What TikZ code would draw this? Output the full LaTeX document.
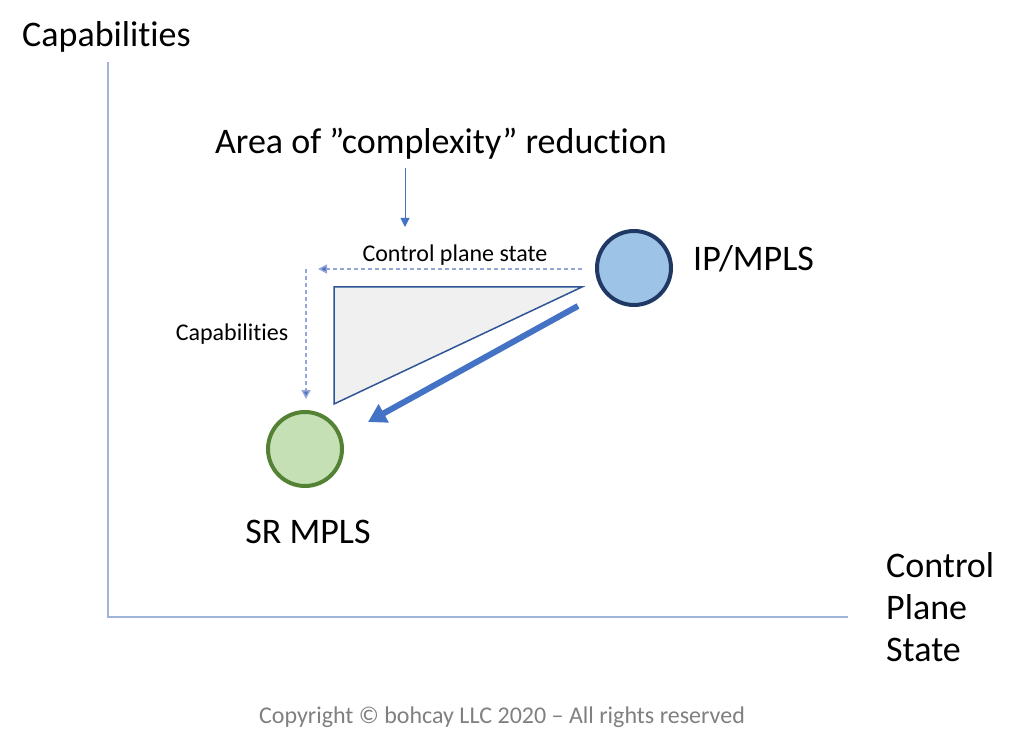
\documentclass[tikz,border=0pt]{standalone}
\usepackage{fontspec}
\setmainfont[Ligatures=NoCommon]{Carlito}
\usetikzlibrary{arrows.meta}
\definecolor{axisblue}{RGB}{160,180,218}
\definecolor{ipfill}{RGB}{157,195,230}
\definecolor{ipdraw}{RGB}{31,56,100}
\definecolor{srfill}{RGB}{197,224,180}
\definecolor{srdraw}{RGB}{84,130,53}
\definecolor{tridraw}{RGB}{47,85,151}
\definecolor{arrowblue}{RGB}{68,114,196}
\definecolor{dashblue}{RGB}{150,165,215}
\definecolor{copygray}{RGB}{128,128,128}
\tikzset{
  bigtext/.style={font=\fontsize{36}{42}\selectfont, inner sep=0pt},
  smalltext/.style={font=\fontsize{24}{28}\selectfont, inner sep=0pt},
  axisline/.style={draw=axisblue, line width=2pt},
  dashedarrow/.style={draw=dashblue, dashed, dash pattern=on 4pt off 3pt, line width=1.5pt, -{Triangle[length=9pt,width=9pt,fill=arrowblue]}},
  circ/.style={circle, minimum size=74pt, inner sep=0pt, line width=4pt}
}
\begin{document}
\begin{tikzpicture}[x=1pt,y=-1pt]
\useasboundingbox (0,0) rectangle (1018,746);
% axes
\coordinate (top) at (108,62);
\coordinate (origin) at (108,617);
\coordinate (right) at (848,617);
\draw[axisline] (top) -- (origin) -- (right);
\node[bigtext, anchor=west] (ylabel) at (22,37) {Capabilities};
\node[bigtext, anchor=north west, align=left] (xlabel) at (886,552) {Control\\Plane\\State};
% circles
\node[circ, fill=ipfill, draw=ipdraw] (ip) at (634,268) {};
\node[circ, fill=srfill, draw=srdraw] (sr) at (305,449) {};
\node[bigtext, anchor=west] (iplabel) at (693,259) {IP/MPLS};
\node[bigtext] (srlabel) at (308,532) {SR MPLS};
% triangle
\coordinate (t1) at (334,287);
\coordinate (t2) at (582,287);
\coordinate (t3) at (334,404);
\draw[draw=tridraw, fill=black!6, line width=1.5pt] (t1) -- (t2) -- (t3) -- cycle;
% thick arrow
\coordinate (ta) at (578,306);
\coordinate (tb) at (368,422);
\draw[arrowblue, line width=6pt, -{Triangle[length=18pt,width=20pt]}] (ta) -- (tb);
% dashed arrows
\coordinate (h1) at (582,269);
\coordinate (h2) at (318,269);
\coordinate (v1) at (306,269);
\coordinate (v2) at (306,399);
\draw[dashedarrow] (h1) -- (h2);
\draw[dashedarrow] (v1) -- (v2);
\node[smalltext] (cps) at (455,255) {Control plane state};
\node[smalltext] (cap) at (232,334) {Capabilities};
% area label
\node[bigtext] (area) at (441,144) {Area of ”complexity” reduction};
\coordinate (a1) at (405,168);
\coordinate (a2) at (405,227);
\draw[arrowblue, line width=1pt, -{Triangle[length=9pt,width=9pt]}] (a1) -- (a2);
% copyright
\node[font=\fontsize{24}{28}\selectfont, text=copygray, inner sep=0pt] (copy) at (502,717) {Copyright © bohcay LLC 2020 – All rights reserved};
\end{tikzpicture}
\end{document}
